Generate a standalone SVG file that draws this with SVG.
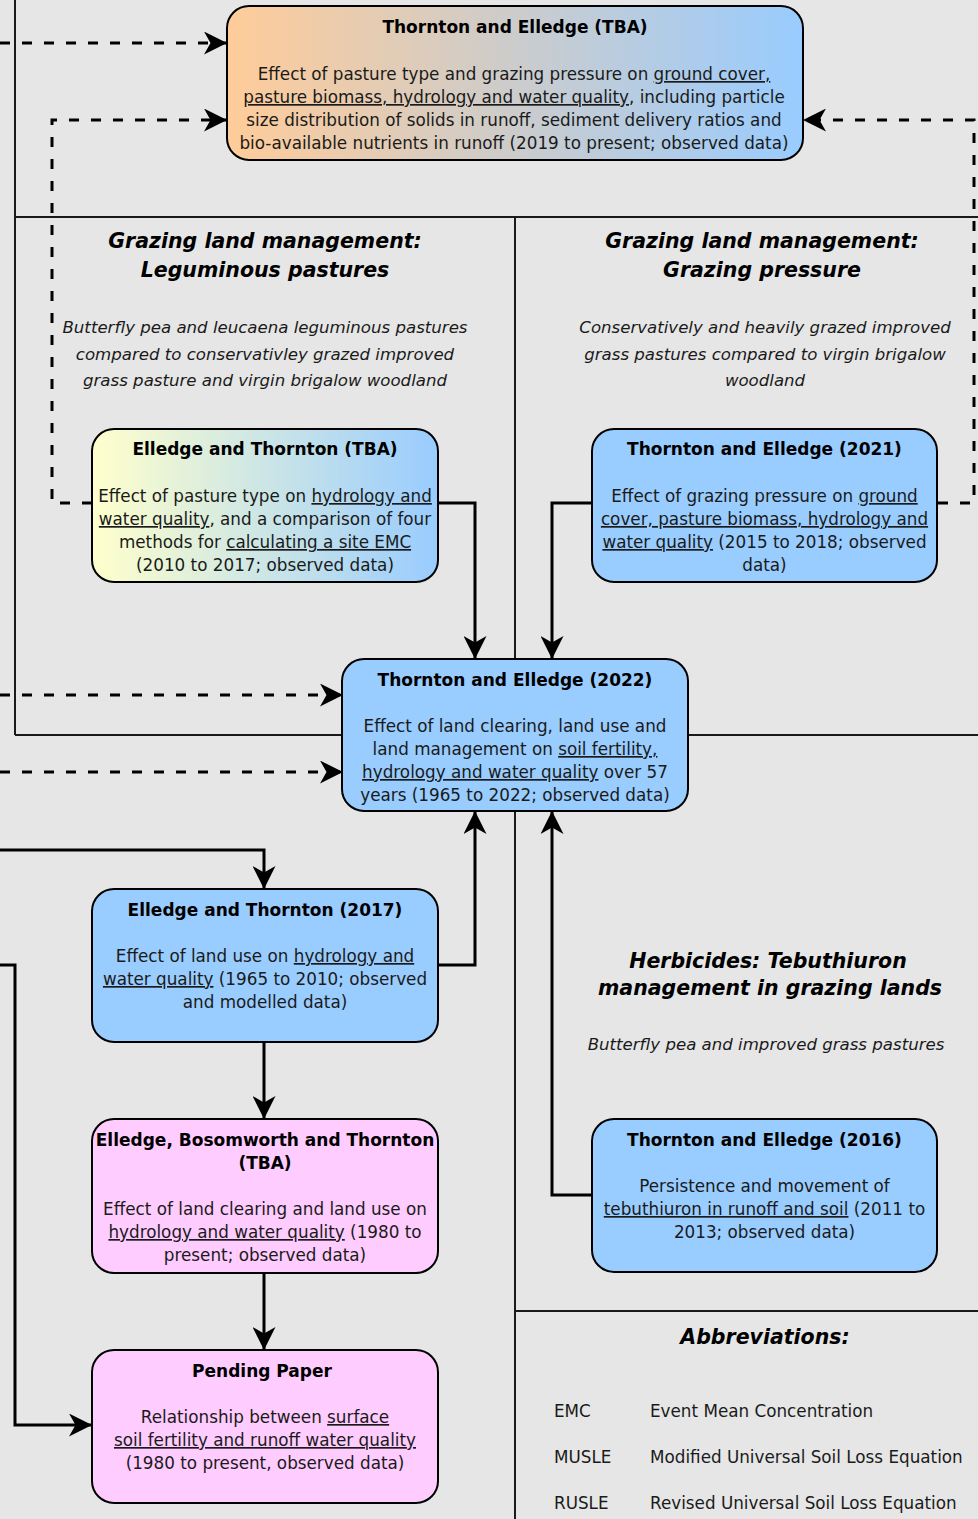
<svg xmlns="http://www.w3.org/2000/svg" width="978" height="1519" viewBox="0 0 978 1519">
<defs>
<linearGradient id="gOrange" x1="0" y1="0" x2="1" y2="0"><stop offset="0" stop-color="#ffcc99"/><stop offset="1" stop-color="#99ccff"/></linearGradient>
<linearGradient id="gYellow" x1="0" y1="0" x2="1" y2="0"><stop offset="0" stop-color="#ffffcc"/><stop offset="1" stop-color="#99ccff"/></linearGradient>
<marker id="arr" markerUnits="userSpaceOnUse" viewBox="0 0 23 23" refX="22" refY="11.5" markerWidth="23" markerHeight="23" orient="auto"><path d="M23,11.5 L0,0 L6.5,11.5 L0,23 Z" fill="#000"/></marker>
<style>
.bg{fill:#e6e6e6}
.panel{stroke:#1a1a1a;stroke-width:2;fill:none}
.node{stroke:#000;stroke-width:2}
.blue{fill:#99ccff}
.pink{fill:#ffccff}
.t{font-family:"DejaVu Sans",Verdana,sans-serif;text-anchor:middle}
.title{font-size:17px;font-weight:bold;fill:#000}
.body{font-size:16.8px;fill:#1a1a1a}
.head{font-size:20.5px;font-weight:bold;font-style:italic;fill:#000}
.sub{font-size:16.6px;font-style:italic;fill:#1a1a1a}
.abbr{font-family:"DejaVu Sans",Verdana,sans-serif;font-size:16.8px;fill:#1a1a1a}
.u{text-decoration:underline}
.c{fill:none;stroke:#000;stroke-width:3}
.d{fill:none;stroke:#000;stroke-width:3;stroke-dasharray:10 12}
</style>
</defs>
<rect class="bg" x="0" y="0" width="978" height="1519"/>
<g id="panels">
<path class="panel" d="M15,0 V735 M15,217 H978 M515,217 V1519 M15,735 H978 M515,1311 H978"/>
</g>
<g id="labels">
<text class="t head" x="265" y="248">Grazing land management:</text>
<text class="t head" x="265" y="277">Leguminous pastures</text>
<text class="t sub" x="265" y="333">Butterfly pea and leucaena leguminous pastures</text>
<text class="t sub" x="265" y="360">compared to conservativley grazed improved</text>
<text class="t sub" x="265" y="386">grass pasture and virgin brigalow woodland</text>
<text class="t head" x="762" y="248">Grazing land management:</text>
<text class="t head" x="762" y="277">Grazing pressure</text>
<text class="t sub" x="765" y="333">Conservatively and heavily grazed improved</text>
<text class="t sub" x="765" y="360">grass pastures compared to virgin brigalow</text>
<text class="t sub" x="765" y="386">woodland</text>
<text class="t head" x="768" y="968">Herbicides: Tebuthiuron</text>
<text class="t head" x="770" y="995">management in grazing lands</text>
<text class="t sub" x="766" y="1050">Butterfly pea and improved grass pastures</text>
<text class="t head" x="765" y="1344">Abbreviations:</text>
<text class="abbr" x="554" y="1417">EMC</text>
<text class="abbr" x="650" y="1417">Event Mean Concentration</text>
<text class="abbr" x="554" y="1463">MUSLE</text>
<text class="abbr" x="650" y="1463">Modified Universal Soil Loss Equation</text>
<text class="abbr" x="554" y="1509">RUSLE</text>
<text class="abbr" x="650" y="1509">Revised Universal Soil Loss Equation</text>
</g>
<g id="connectors">
<path class="d" d="M0,43 H226" marker-end="url(#arr)"/>
<path class="d" d="M92,503 H52 V120 H226" marker-end="url(#arr)"/>
<path class="d" d="M938,503 H974 V120 H804" marker-end="url(#arr)"/>
<path class="d" d="M0,695 H342" marker-end="url(#arr)"/>
<path class="d" d="M0,772 H342" marker-end="url(#arr)"/>
<path class="c" d="M438,503 H475 V658" marker-end="url(#arr)"/>
<path class="c" d="M592,503 H552 V658" marker-end="url(#arr)"/>
<path class="c" d="M438,965 H475 V812" marker-end="url(#arr)"/>
<path class="c" d="M592,1195 H552 V812" marker-end="url(#arr)"/>
<path class="c" d="M0,850 H264 V888" marker-end="url(#arr)"/>
<path class="c" d="M264,1043 V1118" marker-end="url(#arr)"/>
<path class="c" d="M264,1274 V1349" marker-end="url(#arr)"/>
<path class="c" d="M0,965 H15 V1425 H91" marker-end="url(#arr)"/>
</g>
<g id="node-top">
<rect class="node" x="227" y="6" width="576" height="154" rx="22" fill="url(#gOrange)"/>
<text class="t title" x="515" y="33">Thornton and Elledge (TBA)</text>
<text class="t body" x="514" y="80">Effect of pasture type and grazing pressure on <tspan class="u">ground cover,</tspan></text>
<text class="t body" x="514" y="103"><tspan class="u">pasture biomass, hydrology and water quality</tspan>, including particle</text>
<text class="t body" x="514" y="126">size distribution of solids in runoff, sediment delivery ratios and</text>
<text class="t body" x="514" y="149">bio-available nutrients in runoff (2019 to present; observed data)</text>
</g>
<g id="node-et-tba">
<rect class="node" x="92" y="429" width="346" height="153" rx="22" fill="url(#gYellow)"/>
<text class="t title" x="265" y="455">Elledge and Thornton (TBA)</text>
<text class="t body" x="265" y="502">Effect of pasture type on <tspan class="u">hydrology and</tspan></text>
<text class="t body" x="265" y="525"><tspan class="u">water quality</tspan>, and a comparison of four</text>
<text class="t body" x="265" y="548">methods for <tspan class="u">calculating a site EMC</tspan></text>
<text class="t body" x="265" y="571">(2010 to 2017; observed data)</text>
</g>
<g id="node-te-2021">
<rect class="node blue" x="592" y="429" width="345" height="153" rx="22"/>
<text class="t title" x="764.5" y="455">Thornton and Elledge (2021)</text>
<text class="t body" x="764.5" y="502">Effect of grazing pressure on <tspan class="u">ground</tspan></text>
<text class="t body" x="764.5" y="525"><tspan class="u">cover, pasture biomass, hydrology and</tspan></text>
<text class="t body" x="764.5" y="548"><tspan class="u">water quality</tspan> (2015 to 2018; observed</text>
<text class="t body" x="764.5" y="571">data)</text>
</g>
<g id="node-te-2022">
<rect class="node blue" x="342" y="659" width="346" height="152" rx="22"/>
<text class="t title" x="515" y="686">Thornton and Elledge (2022)</text>
<text class="t body" x="515" y="732">Effect of land clearing, land use and</text>
<text class="t body" x="515" y="755">land management on <tspan class="u">soil fertility,</tspan></text>
<text class="t body" x="515" y="778"><tspan class="u">hydrology and water quality</tspan> over 57</text>
<text class="t body" x="515" y="801">years (1965 to 2022; observed data)</text>
</g>
<g id="node-et-2017">
<rect class="node blue" x="92" y="889" width="346" height="153" rx="22"/>
<text class="t title" x="265" y="916">Elledge and Thornton (2017)</text>
<text class="t body" x="265" y="962">Effect of land use on <tspan class="u">hydrology and</tspan></text>
<text class="t body" x="265" y="985"><tspan class="u">water quality</tspan> (1965 to 2010; observed</text>
<text class="t body" x="265" y="1008">and modelled data)</text>
</g>
<g id="node-ebt-tba">
<rect class="node pink" x="92" y="1119" width="346" height="154" rx="22"/>
<text class="t title" x="265" y="1146">Elledge, Bosomworth and Thornton</text>
<text class="t title" x="265" y="1169">(TBA)</text>
<text class="t body" x="265" y="1215">Effect of land clearing and land use on</text>
<text class="t body" x="265" y="1238"><tspan class="u">hydrology and water quality</tspan> (1980 to</text>
<text class="t body" x="265" y="1261">present; observed data)</text>
</g>
<g id="node-pending">
<rect class="node pink" x="92" y="1350" width="346" height="153" rx="22"/>
<text class="t title" x="262" y="1377">Pending Paper</text>
<text class="t body" x="265" y="1423">Relationship between <tspan class="u">surface</tspan></text>
<text class="t body" x="265" y="1446"><tspan class="u">soil fertility and runoff water quality</tspan></text>
<text class="t body" x="265" y="1469">(1980 to present, observed data)</text>
</g>
<g id="node-te-2016">
<rect class="node blue" x="592" y="1119" width="345" height="153" rx="22"/>
<text class="t title" x="764.5" y="1146">Thornton and Elledge (2016)</text>
<text class="t body" x="764.5" y="1192">Persistence and movement of</text>
<text class="t body" x="764.5" y="1215"><tspan class="u">tebuthiuron in runoff and soil</tspan> (2011 to</text>
<text class="t body" x="764.5" y="1238">2013; observed data)</text>
</g>
</svg>
